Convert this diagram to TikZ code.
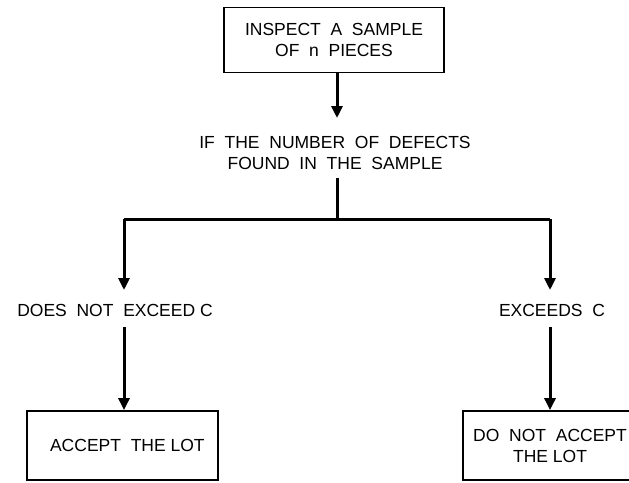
\documentclass[tikz,border=0pt]{standalone}
\usepackage{fontspec}
\setmainfont{Liberation Sans}
\usetikzlibrary{arrows.meta}
\begin{document}
\begin{tikzpicture}[x=1pt,y=1pt,
  lbl/.style={font=\fontsize{17.5}{21}\selectfont, align=center, inner sep=0pt},
  boxn/.style={lbl, draw, line width=1.8pt},
  flow/.style={line width=3pt},
  arr/.style={flow, -{Triangle[width=11pt,length=12pt]}}]
\useasboundingbox (0,0) rectangle (629,-482);
\fill[white] (0,0) rectangle (629,-482);
\node[boxn, minimum width=220pt, minimum height=65pt] (top) at (334,-40) {INSPECT\ \ A\ \ SAMPLE\\OF\ \ n\ \ PIECES};
\node[lbl] (q) at (335,-152.5) {IF\ \ THE\ \ NUMBER\ \ OF\ \ DEFECTS\\FOUND\ \ IN\ \ THE\ \ SAMPLE};
\coordinate (a1) at (337,-118);
\coordinate (qb) at (337,-178);
\coordinate (j) at (337,-219);
\coordinate (jl) at (124,-219);
\coordinate (jr) at (550,-219);
\coordinate (tl) at (124,-290);
\coordinate (tr) at (550,-290);
\node[lbl] (l) at (115,-310) {DOES\ \ NOT\ \ EXCEED\ C};
\node[lbl] (r) at (552,-310) {EXCEEDS\ \ C};
\coordinate (ls) at (124,-327);
\coordinate (rs) at (550,-327);
\node[boxn, minimum width=191pt, minimum height=69pt] (lbox) at (122.5,-445.5) {\ \ ACCEPT\ \ THE\ LOT};
\node[boxn, minimum width=174pt, minimum height=69pt] (rbox) at (550,-445.5) {DO\ \ NOT\ \ ACCEPT\\THE\ LOT};
\draw[arr] (top.south -| a1) -- (a1);
\draw[flow] (qb) -- (j);
\draw[flow] (jl) -- (jr);
\draw[arr] (jl) -- (tl);
\draw[arr] (jr) -- (tr);
\draw[arr] (ls) -- (lbox.north -| ls);
\draw[arr] (rs) -- (rbox.north -| rs);
\end{tikzpicture}
\end{document}
